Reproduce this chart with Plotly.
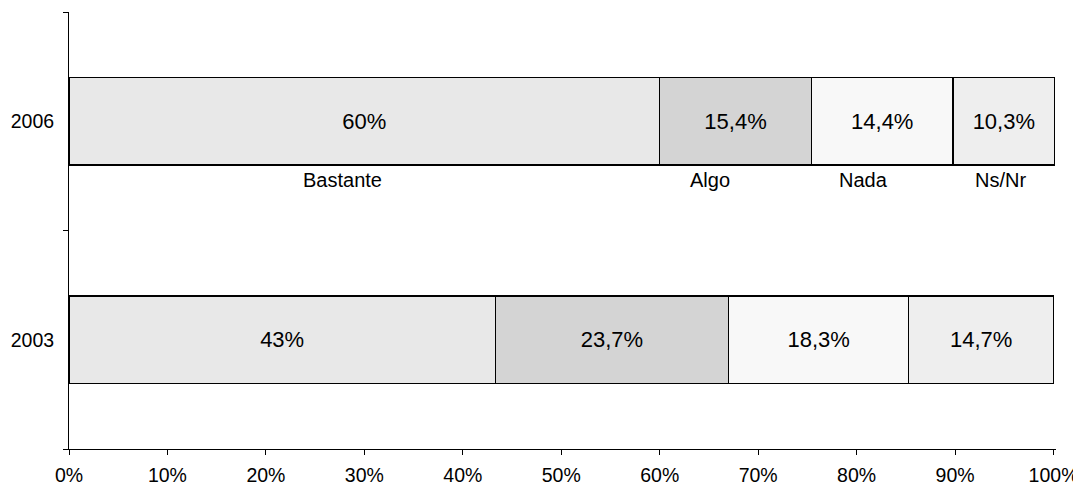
import plotly.graph_objects as go

years = ["2003", "2006"]
categories = ["Bastante", "Algo", "Nada", "Ns/Nr"]
values_2003 = [43.3, 23.7, 18.3, 14.7]
values_2006 = [60.0, 15.4, 14.4, 10.3]
labels_2003 = ["43%", "23,7%", "18,3%", "14,7%"]
labels_2006 = ["60%", "15,4%", "14,4%", "10,3%"]
colors = ["#E8E8E8", "#D4D4D4", "#F8F8F8", "#EEEEEE"]
cat_label_x = [27.8, 65.1, 80.7, 94.6]
x_ticks = list(range(0, 101, 10))

FONT = "Liberation Sans, Arial, sans-serif"
fig = go.Figure()
for i, cat in enumerate(categories):
    fig.add_trace(go.Bar(
        y=years,
        x=[values_2003[i], values_2006[i]],
        orientation="h",
        name=cat,
        width=0.4,
        marker=dict(color=colors[i], line=dict(color="black", width=1.3)),
        text=[labels_2003[i], labels_2006[i]],
        textposition="inside",
        insidetextanchor="middle",
        textfont=dict(color="black", size=22, family=FONT),
        hoverinfo="skip",
    ))

for cat, xv in zip(categories, cat_label_x):
    fig.add_annotation(x=xv, y=0.6156, xref="x", yref="paper", text=cat,
                       showarrow=False, xanchor="center", yanchor="middle",
                       font=dict(size=20, color="black", family=FONT))

# page body has an 8px margin, so the figure is shrunk by 8px to fit the window
fig.update_layout(
    barmode="stack",
    width=1073, height=478,
    margin=dict(l=61, r=25, t=4, b=37, autoexpand=False),
    plot_bgcolor="white", paper_bgcolor="white",
    showlegend=False,
    font=dict(family=FONT, size=19.5, color="black"),
)
fig.update_xaxes(range=[0, 100.25], tickvals=x_ticks, ticktext=[f"{v}%" for v in x_ticks],
                 showgrid=False, zeroline=False, showline=True, linecolor="black", linewidth=1,
                 ticks="outside", ticklen=5, tickcolor="black", tickfont=dict(size=19.5),
                 ticklabelstandoff=4, automargin=False, fixedrange=True)
fig.update_yaxes(type="category", categoryorder="array", categoryarray=years,
                 showgrid=False, zeroline=False, showline=True, linecolor="black", linewidth=1,
                 ticks="outside", ticklen=5, tickcolor="black", tickson="boundaries",
                 tickfont=dict(size=19.5), ticklabelstandoff=10, automargin=False, fixedrange=True)

fig.write_html("out.html")
